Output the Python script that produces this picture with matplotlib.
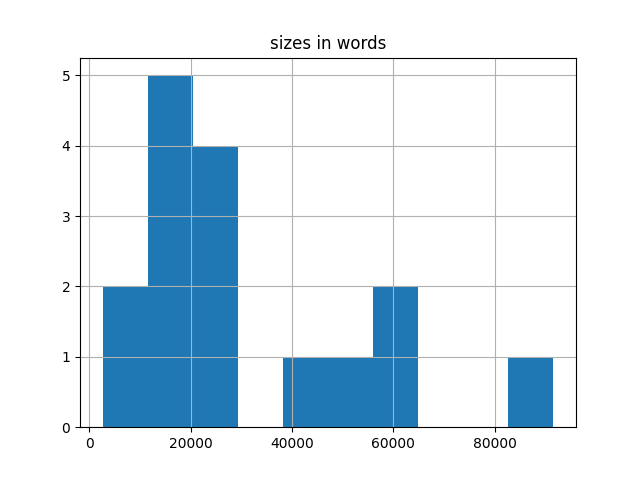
import matplotlib
matplotlib.use("Agg")
import matplotlib.pyplot as plt
import numpy as np

data_min = 2600
data_max = 91600
counts = [2, 5, 4, 0, 1, 1, 2, 0, 0, 1]
bin_edges = np.linspace(data_min, data_max, len(counts) + 1)

fig, ax = plt.subplots(figsize=(6.4, 4.8), dpi=100)
ax.hist(bin_edges[:-1], bins=bin_edges, weights=counts, color="#1f77b4")
ax.grid(True)
ax.set_title("sizes in words")
fig.savefig("out.png")
